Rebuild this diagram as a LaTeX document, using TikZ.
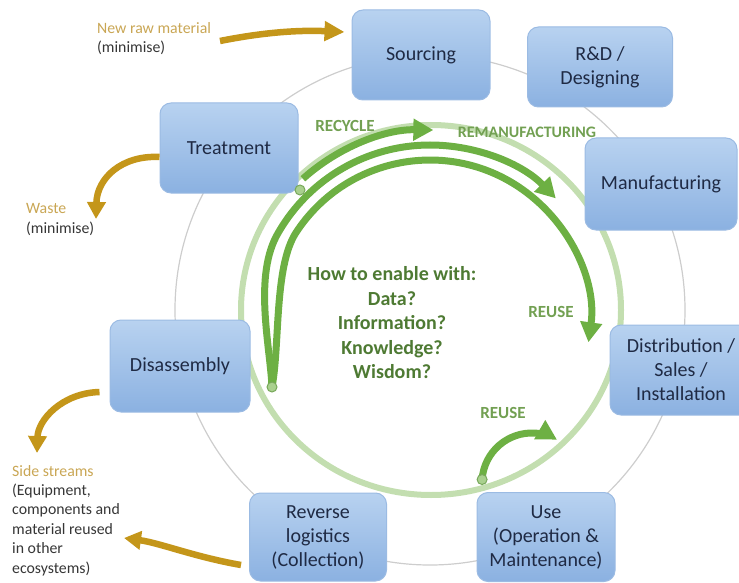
\documentclass[tikz,border=0pt]{standalone}
\usepackage{fontspec}
\setmainfont{Carlito}
\usetikzlibrary{arrows.meta}

\definecolor{boxtop}{HTML}{B8D2F0}
\definecolor{boxbot}{HTML}{8BB1E1}
\definecolor{boxline}{HTML}{9BBBE3}
\definecolor{boxtext}{HTML}{1F2A44}
\definecolor{ring}{HTML}{CDCDCD}
\definecolor{paleg}{HTML}{C3DEB0}
\definecolor{loopg}{HTML}{6DB043}
\definecolor{labelg}{HTML}{72A052}
\definecolor{coreg}{HTML}{4E7A33}
\definecolor{ochre}{HTML}{C4961A}
\definecolor{ochretext}{HTML}{C9A654}
\definecolor{note}{HTML}{363636}
\definecolor{dotfill}{HTML}{A9D08E}
\definecolor{dotline}{HTML}{77A85A}

\begin{document}
\begin{tikzpicture}[x=1pt,y=-1pt,
  stage/.style={rounded corners=11pt, top color=boxtop, bottom color=boxbot,
    draw=boxline, line width=1pt, text=boxtext, align=center,
    font=\fontsize{20}{24}\selectfont, inner sep=0pt},
  greenflow/.style={draw=loopg, line width=7pt,
    -{Triangle[length=20pt,width=21pt]}},
  ochreflow/.style={draw=ochre, line width=6.5pt,
    -{Triangle[length=17pt,width=18pt]}},
  junction/.style={circle, fill=dotfill, draw=dotline, line width=1pt,
    minimum size=10pt, inner sep=0pt},
  flowlabel/.style={text=labelg, font=\bfseries\fontsize{17}{20}\selectfont, inner sep=0pt},
  sidenote/.style={align=left, inner sep=0pt, anchor=base west,
    font=\fontsize{15.8}{19.4}\selectfont, text=note}]

\useasboundingbox (0,0) rectangle (739,583);

% outer life-cycle ring and inner loop ring
\draw[ring, line width=1.2pt] (430,310) circle[radius=255];
\draw[paleg, line width=6pt] (431,310) ellipse[x radius=190, y radius=185];

% life-cycle stages
\node[stage, minimum width=138pt, minimum height=90pt] (src) at (421,55) {Sourcing};
\node[stage, minimum width=145pt, minimum height=80pt] (rnd) at (600,67) {R\&D /\\Designing};
\node[stage, minimum width=152pt, minimum height=92pt] (mfg) at (661,184) {Manufacturing};
\node[stage, minimum width=142pt, minimum height=90pt] (dist) at (681,370) {Distribution /\\Sales /\\Installation};
\node[stage, minimum width=138pt, minimum height=89pt] (use) at (546,537) {Use\\(Operation \&\\Maintenance)};
\node[stage, minimum width=137pt, minimum height=88pt] (rev) at (318,537) {Reverse\\logistics\\(Collection)};
\node[stage, minimum width=140pt, minimum height=92pt] (dis) at (180,366) {Disassembly};
\node[stage, minimum width=138pt, minimum height=90pt] (trt) at (229,148) {Treatment};

% where the inner loops start
\coordinate (jT) at (300,190);
\coordinate (jL) at (272,387);
\coordinate (jU) at (482.1,479.5);
\coordinate (recstart) at (302.9,178.8);

% inner loops (arcs about the loop centre, y grows downwards)
\draw[greenflow] (recstart) arc[start angle=-132, end angle=-89, radius=190];
\draw[greenflow] (jL) .. controls (270,345) and (253,275) .. (278.4,232.5)
  arc[start angle=-150, end angle=-44, radius=175];
\draw[greenflow] (jL) .. controls (280,345) and (274,267) .. (295.8,232.9)
  arc[start angle=-147, end angle=8, radius=160];
\draw[greenflow] (jU) arc[start angle=-176, end angle=-60, radius=50];

% junction dots
\node[junction] (dotT) at (jT) {};
\node[junction] (dotL) at (jL) {};
\node[junction] (dotU) at (jU) {};

% loop labels
\node[flowlabel] (lrec) at (345,126) {RECYCLE};
\node[flowlabel, font=\bfseries\fontsize{16}{18}\selectfont] (lrem) at (527,132) {REMANUFACTURING};
\node[flowlabel] (lreu1) at (551,312) {REUSE};
\node[flowlabel] (lreu2) at (503,413) {REUSE};

\node[text=coreg, align=center, inner sep=0pt,
  font=\bfseries\fontsize{20}{24.5}\selectfont] (core) at (392,323)
  {How to enable with:\\Data?\\Information?\\Knowledge?\\Wisdom?};

% inflows and outflows (node base = baseline of the last line)
\node[sidenote] (raw) at (97,52.5) {\textcolor{ochretext}{New raw material}\\(minimise)};
\node[sidenote] (waste) at (26,233) {\textcolor{ochretext}{Waste}\\(minimise)};
\node[sidenote] (side) at (12,573) {\textcolor{ochretext}{Side streams}\\(Equipment,\\components and\\material reused\\in other\\ecosystems)};

\coordinate (rawstart) at (220,41);
\coordinate (wastetip) at (96,219);
\coordinate (sidetip) at (37,453);
\coordinate (revtip) at (124,538);

\draw[ochreflow, -{Triangle[length=20pt,width=19pt]}] (rawstart)
  .. controls (265,32) and (300,30) .. ([shift={(-7,-23)}]src.west);
\draw[ochreflow] ([shift={(0,9)}]trt.west)
  .. controls (122,155) and (97,178) .. (wastetip);
\draw[ochreflow] ([shift={(-10,26)}]dis.west)
  .. controls (62,393) and (38,420) .. (sidetip);
\draw[ochreflow] ([shift={(-8,28)}]rev.west)
  .. controls (195,557) and (160,543) .. (revtip);

\end{tikzpicture}
\end{document}
